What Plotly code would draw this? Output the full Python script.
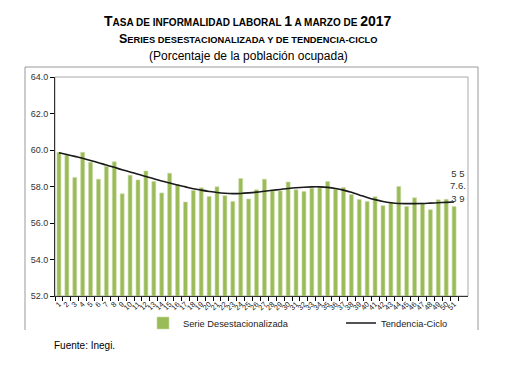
import plotly.graph_objects as go

categories = [str(i) for i in range(1, 52)]
serie_desest = [59.87, 59.73, 58.49, 59.87, 59.33, 58.4, 59.1, 59.35, 57.6, 58.62,
                58.36, 58.85, 58.27, 57.65, 58.73, 58.1, 57.15, 57.78, 57.93, 57.45,
                57.98, 57.5, 57.18, 58.44, 57.31, 57.82, 58.4, 57.78, 57.76, 58.25,
                57.82, 57.73, 57.9, 57.93, 58.27, 57.85, 57.95, 57.56, 57.29, 57.18,
                57.44, 56.95, 57.13, 58.0, 56.91, 57.38, 57.09, 56.73, 57.27, 57.3, 56.9]
tendencia = [59.85, 59.75, 59.65, 59.55, 59.43, 59.3, 59.18, 59.05, 58.92, 58.8,
             58.67, 58.55, 58.43, 58.3, 58.19, 58.08, 57.98, 57.88, 57.8, 57.73,
             57.67, 57.63, 57.61, 57.62, 57.65, 57.69, 57.74, 57.79, 57.84, 57.89,
             57.93, 57.96, 57.98, 57.98, 57.95, 57.89, 57.8, 57.68, 57.54, 57.4,
             57.28, 57.18, 57.11, 57.07, 57.06, 57.06, 57.07, 57.09, 57.11, 57.13, 57.15]
y_ticks = [52, 54, 56, 58, 60, 62, 64]
label_points = ["50", "51"]
label_texts = ["5<br>7.<br>3", "5<br>6.<br>9"]

FONT = "Liberation Sans, Arial, sans-serif"

fig = go.Figure()
fig.add_trace(go.Bar(
    x=categories, y=serie_desest, name="Serie Desestacionalizada",
    marker=dict(color="#9bbb59", line=dict(color="#c9dca4", width=0.6)),
    width=0.5, legend="legend",
))
fig.add_trace(go.Scatter(
    x=categories, y=tendencia, name="Tendencia-Ciclo", mode="lines",
    line=dict(color="#1a1a1a", width=1.6, shape="spline"), legend="legend2",
))

def sc(big, small, bs, ss):
    return f"<span style='font-size:{bs}px'>{big}</span><span style='font-size:{ss}px'>{small}</span>"

line1 = ("<b>" + sc("T", "ASA DE INFORMALIDAD LABORAL ", 14, 10)
         + "<span style='font-size:14px'>1</span>"
         + "<span style='font-size:10px'> A MARZO DE </span>"
         + "<span style='font-size:14px'>2017</span></b>")
line2 = "<b>" + sc("S", "ERIES DESESTACIONALIZADA Y DE TENDENCIA-CICLO", 12.5, 9.3) + "</b>"
line3 = "(Porcentaje de la población ocupada)"

ann = []
for txt, ypx, size in [(line1, 21, 14), (line2, 39, 12.5), (line3, 56, 12)]:
    ann.append(dict(text=txt, xref="paper", yref="paper", x=(248 - 55) / 413,
                    y=(296 - ypx) / 219, xanchor="center", yanchor="middle",
                    showarrow=False, font=dict(family=FONT, size=size, color="#000")))
ann.append(dict(text="Fuente: Inegi.", xref="paper", yref="paper",
                x=(52 - 55) / 413, y=(296 - 345) / 219, xanchor="left", yanchor="middle",
                showarrow=False, font=dict(family=FONT, size=10, color="#000")))
for cx, t in zip(label_points, label_texts):
    ann.append(dict(text=t, x=cx, y=56.95, xref="x", yref="y", xanchor="center",
                    yanchor="bottom", showarrow=False,
                    font=dict(family=FONT, size=9.5, color="#333")))

shapes = [
    dict(type="rect", xref="paper", yref="paper", x0=0, x1=1, y0=0, y1=1,
         line=dict(color="#aaaaaa", width=1), layer="below"),
    dict(type="path", xref="paper", yref="paper",
         path=f"M {(25-55)/413} {(296-330)/219} L {(25-55)/413} {(296-67)/219} "
              f"L {(478-55)/413} {(296-67)/219} L {(478-55)/413} {(296-330)/219}",
         line=dict(color="#999999", width=1)),
]

fig.update_layout(
    width=506, height=378,
    margin=dict(l=55, r=38, t=77, b=82),
    paper_bgcolor="white", plot_bgcolor="white",
    font=dict(family=FONT, size=9, color="#222"),
    showlegend=True,
    legend=dict(orientation="h", x=(143 - 55) / 413, y=(296 - 323) / 219,
                xanchor="left", yanchor="middle", font=dict(size=9.3, family=FONT),
                bgcolor="rgba(0,0,0,0)", itemwidth=30, tracegroupgap=0),
    legend2=dict(orientation="h", x=(341 - 55) / 413, y=(296 - 323) / 219,
                 xanchor="left", yanchor="middle", font=dict(size=9.3, family=FONT),
                 bgcolor="rgba(0,0,0,0)", itemwidth=30),
    annotations=ann,
    shapes=shapes,
    bargap=0.5,
)
fig.update_xaxes(
    type="category", tickmode="array", tickvals=categories, ticktext=categories,
    tickangle=-45, tickfont=dict(size=7.5, color="#222"),
    ticks="outside", ticklen=4, tickcolor="#000", tickson="boundaries",
    showline=True, linecolor="#333", linewidth=1, showgrid=False, automargin=False,
)
fig.update_yaxes(
    range=[52, 64], tickvals=y_ticks, ticktext=[f"{v:.1f}" for v in y_ticks],
    tickfont=dict(size=9, color="#333"),
    ticks="outside", ticklen=4, tickcolor="#000",
    showline=True, linecolor="#333", linewidth=1, showgrid=False, zeroline=False,
    automargin=False,
)

fig.write_html("out.html", config={"displayModeBar": False},
               post_script="document.body.style.margin='0';")
